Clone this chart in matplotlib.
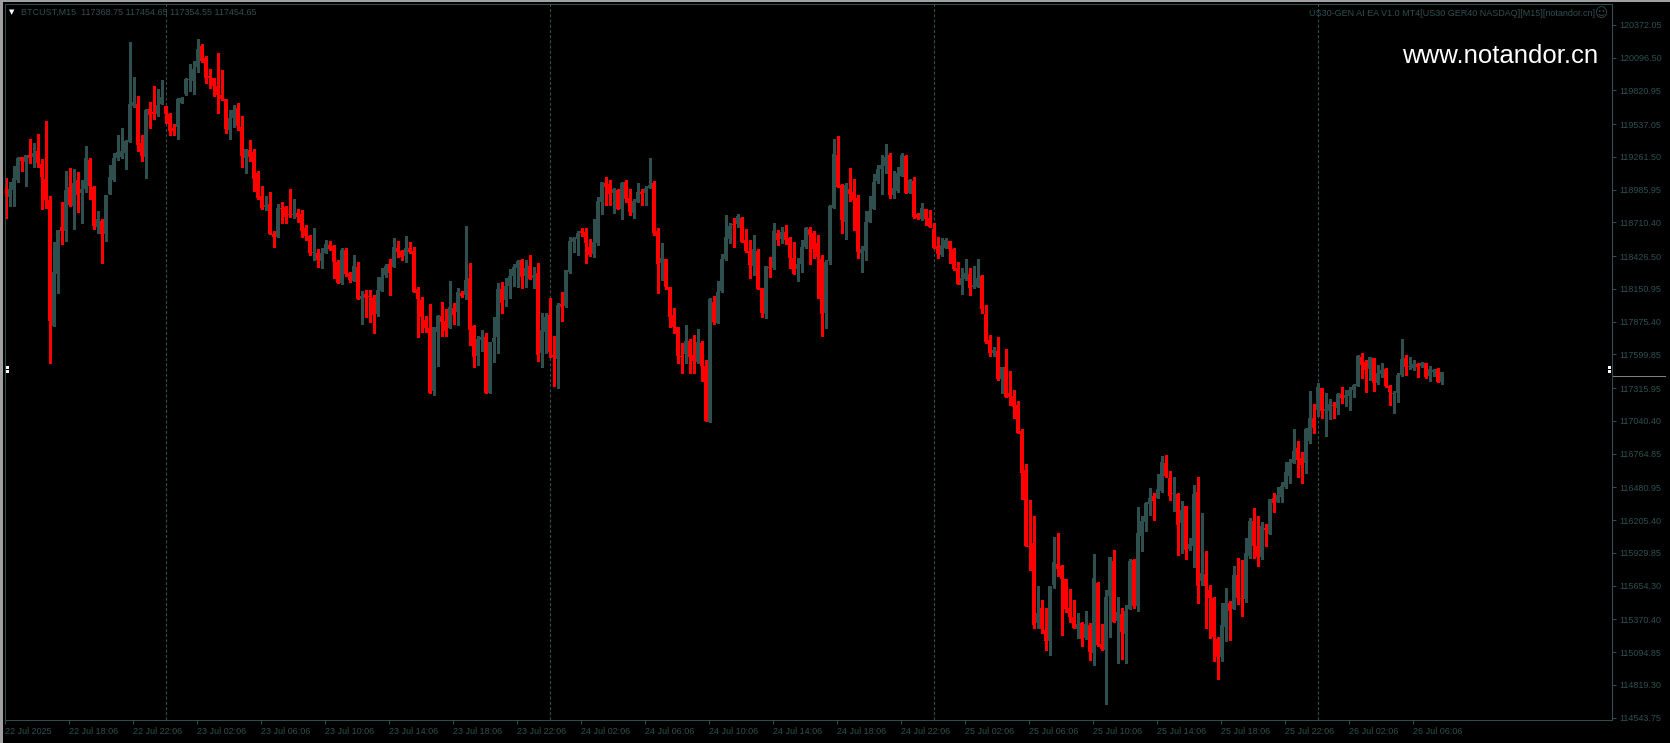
import matplotlib
matplotlib.use("Agg")
import matplotlib.pyplot as plt
from matplotlib.patches import Rectangle
from matplotlib.transforms import blended_transform_factory

plt.rcParams['font.family'] = ['Liberation Sans', 'DejaVu Sans']

# M15 candles (oldest first)
opens = [
    118998, 118928, 118984, 119068, 119261, 119222, 119275, 119261, 119312, 119203,
    119076, 118900, 117842, 118280, 118670, 118642, 119009, 118852, 119068, 118956,
    118989, 119236, 119012, 118675, 118723, 118614, 118953, 119068, 119253, 119264,
    119298, 119390, 119691, 119707, 119379, 119264, 119662, 119643, 119620, 119707,
    119691, 119623, 119508, 119517, 119713, 119789, 119909, 119904, 120016, 120195,
    120094, 119943, 119926, 119859, 119780, 119749, 119491, 119592, 119674, 119511,
    119256, 119320, 119304, 119124, 118933, 118844, 118866, 118614, 118591, 118827,
    118841, 118782, 118773, 118790, 118785, 118667, 118597, 118451, 118456, 118386,
    118456, 118521, 118513, 118381, 118198, 118479, 118285, 118221, 118336, 118069,
    118109, 118092, 118078, 117940, 118137, 118266, 118358, 118339, 118496, 118473,
    118428, 118496, 118471, 118148, 118058, 117890, 117825, 117295, 117792, 117924,
    117882, 117820, 117988, 117960, 118117, 118100, 118241, 117839, 117590, 117722,
    117744, 117279, 117702, 117744, 118151, 118056, 118176, 118260, 118325, 118395,
    118260, 118345, 118246, 118283, 117615, 117792, 117930, 117596, 117565, 118025,
    118011, 118297, 118549, 118569, 118639, 118628, 118507, 118448, 118541, 118886,
    119046, 119034, 118962, 118984, 118827, 119048, 118920, 118793, 118886, 118970,
    118956, 118998, 119040, 118639, 118367, 118403, 118171, 117930, 117834, 117590,
    117604, 117714, 117596, 117537, 117699, 117506, 117035, 118044, 117868, 118137,
    118401, 118572, 118695, 118695, 118751, 118563, 118471, 118347, 118474, 118157,
    117941, 118331, 118331, 118625, 118572, 118633, 118577, 118415, 118319, 118361,
    118507, 118659, 118619, 118541, 118406, 117946, 118387, 118835, 119278, 119026,
    118718, 118990, 118970, 118920, 118457, 118474, 118718, 118824, 119060, 119158,
    119186, 119278, 118942, 118978, 119102, 119273, 118956, 119060, 118779, 118740,
    118821, 118746, 118656, 118516, 118437, 118499, 118555, 118488, 118331, 118185,
    118232, 118277, 118171, 118171, 118263, 117941, 117722, 117615, 117629, 117394,
    117495, 117276, 117251, 117175, 116959, 116628, 115989, 116017, 115338, 115470,
    115282, 115192, 115660, 115834, 115823, 115711, 115464, 115388, 115290, 115338,
    115212, 115324, 115091, 115675, 115164, 115114, 115571, 115862, 115358, 115416,
    115245, 115456, 115871, 115487, 116076, 116188, 116345, 116412, 116395, 116454,
    116690, 116564, 116423, 116426, 116185, 116325, 115963, 115991, 116443, 115697,
    115753, 115618, 115554, 115206, 115057, 115310, 115512, 115459, 115745, 115554,
    115540, 115907, 116199, 115991, 115893, 116143, 116090, 116390, 116362, 116398,
    116488, 116580, 116690, 116816, 116732, 116690, 116875, 117066, 117133, 117315,
    117127, 117124, 117175, 117152, 117265, 117237, 117251, 117301, 117338, 117576,
    117540, 117475, 117568, 117357, 117436, 117478, 117335, 117267, 117279, 117427,
    117568, 117492, 117483, 117520, 117503, 117526, 117422, 117455, 117478, 117368.75,
]
highs = [
    119082, 119054, 119186, 119264, 119264, 119275, 119413, 119376, 119455, 119242,
    119564, 118933, 118549, 118647, 118883, 119144, 119169, 119160, 119132, 119068,
    119354, 119253, 119020, 118807, 118740, 118942, 119194, 119292, 119447, 119505,
    119404, 120226, 119935, 119777, 119447, 119668, 119727, 119859, 119834, 119909,
    119691, 119634, 119539, 119755, 119769, 119929, 120044, 120072, 120254, 120209,
    120114, 120005, 119926, 120139, 119993, 119749, 119657, 119699, 119716, 119609,
    119329, 119404, 119332, 119146, 119017, 118936, 118967, 118639, 118866, 118880,
    118849, 118992, 118908, 118824, 118815, 118687, 118605, 118667, 118487, 118493,
    118563, 118552, 118518, 118395, 118493, 118493, 118297, 118434, 118375, 118134,
    118145, 118145, 118100, 118255, 118325, 118358, 118400, 118577, 118557, 118479,
    118600, 118543, 118504, 118165, 118081, 117924, 118025, 117834, 117932, 118039,
    117980, 118218, 118030, 118156, 118137, 118681, 118367, 117848, 117755, 117806,
    117778, 117702, 117912, 118198, 118207, 118241, 118316, 118361, 118395, 118401,
    118395, 118437, 118339, 118367, 117952, 117952, 118073, 117756, 118036, 118129,
    118311, 118586, 118591, 118639, 118667, 118661, 118572, 118740, 118928, 119051,
    119091, 119068, 118998, 118992, 119051, 119068, 118990, 118905, 119040, 118990,
    119018, 119253, 119063, 118667, 118541, 118403, 118171, 117994, 117834, 117694,
    117845, 117728, 117764, 117812, 117716, 117554, 118078, 118092, 118218, 118443,
    118774, 118704, 118746, 118782, 118760, 118656, 118563, 118605, 118488, 118157,
    118345, 118423, 118704, 118647, 118670, 118690, 118586, 118549, 118409, 118563,
    118676, 118670, 118642, 118605, 118437, 118395, 118858, 119413, 119438, 119032,
    119040, 119166, 119074, 118942, 118513, 118810, 118934, 119119, 119194, 119278,
    119371, 119298, 119144, 119180, 119298, 119278, 119074, 119091, 118788, 118872,
    118827, 118816, 118709, 118586, 118583, 118577, 118558, 118493, 118381, 118325,
    118401, 118325, 118347, 118401, 118269, 118016, 117764, 117666, 117750, 117495,
    117646, 117461, 117301, 117209, 116970, 116679, 116376, 116241, 115652, 115534,
    115470, 115652, 116062, 116095, 115829, 115711, 115624, 115534, 115422, 115352,
    115442, 115344, 115921, 115683, 115332, 115618, 115893, 115955, 115562, 115470,
    115492, 115879, 115876, 116320, 116241, 116362, 116474, 116432, 116594, 116746,
    116754, 116622, 116566, 116432, 116370, 116325, 116053, 116502, 116566, 116269,
    115946, 115660, 115562, 115226, 115512, 115632, 115526, 115820, 115890, 115871,
    116053, 116227, 116305, 116241, 116193, 116174, 116384, 116432, 116488, 116530,
    116693, 116718, 116973, 116872, 116782, 116984, 117293, 117183, 117363, 117321,
    117279, 117223, 117203, 117273, 117324, 117301, 117329, 117349, 117596, 117610,
    117554, 117582, 117573, 117511, 117526, 117483, 117343, 117293, 117441, 117730,
    117596, 117582, 117554, 117526, 117540, 117531, 117506, 117475, 117489, 117454.65,
]
lows = [
    118745, 118849, 118849, 119054, 119144, 119020, 119214, 119180, 119180, 118824,
    118830, 117525, 117842, 118117, 118527, 118557, 118852, 118656, 118801, 118709,
    118970, 118905, 118653, 118619, 118367, 118557, 118953, 119059, 119236, 119256,
    119158, 119390, 119685, 119312, 119231, 119088, 119508, 119581, 119609, 119707,
    119550, 119449, 119449, 119410, 119713, 119783, 119820, 119789, 119974, 120058,
    119881, 119839, 119777, 119629, 119741, 119461, 119416, 119517, 119489, 119180,
    119130, 119231, 118978, 118908, 118821, 118815, 118611, 118504, 118586, 118709,
    118703, 118759, 118745, 118712, 118591, 118563, 118437, 118395, 118339, 118330,
    118451, 118479, 118241, 118198, 118193, 118260, 118212, 118221, 118064, 117859,
    117918, 117876, 117778, 117924, 118137, 118255, 118100, 118333, 118423, 118395,
    118381, 118451, 118123, 117744, 117786, 117792, 117273, 117259, 117506, 117758,
    117755, 117820, 117856, 117848, 118086, 118064, 117680, 117497, 117509, 117629,
    117273, 117273, 117539, 117609, 117946, 118011, 118073, 118179, 118171, 118162,
    118171, 118232, 118157, 117548, 117498, 117610, 117576, 117338, 117315, 117885,
    118002, 118283, 118465, 118440, 118600, 118367, 118429, 118423, 118518, 118782,
    118858, 118858, 118793, 118821, 118740, 118886, 118774, 118751, 118886, 118858,
    118858, 118998, 118605, 118120, 118227, 118148, 117829, 117784, 117526, 117447,
    117526, 117447, 117441, 117526, 117380, 117040, 117035, 117854, 117868, 118129,
    118395, 118541, 118507, 118676, 118544, 118465, 118244, 118269, 118151, 117918,
    117910, 118255, 118316, 118521, 118535, 118530, 118331, 118274, 118218, 118297,
    118493, 118361, 118409, 118078, 117758, 117826, 118361, 118835, 119007, 118625,
    118569, 118891, 118647, 118415, 118297, 118395, 118718, 118821, 119040, 118950,
    119124, 118914, 118914, 118970, 119102, 118962, 118956, 118751, 118740, 118732,
    118690, 118670, 118493, 118415, 118429, 118493, 118367, 118311, 118190, 118109,
    118227, 118101, 118162, 118165, 117952, 117699, 117590, 117590, 117385, 117273,
    117245, 117175, 117068, 116937, 116381, 115991, 115787, 115302, 115296, 115259,
    115114, 115072, 115632, 115736, 115240, 115436, 115352, 115302, 115212, 115147,
    115203, 115029, 114987, 115147, 115114, 114659, 115226, 115352, 115007, 115038,
    115001, 115456, 115464, 115445, 115949, 116115, 116249, 116207, 116390, 116446,
    116572, 116376, 116283, 115913, 115927, 115879, 115955, 115815, 115512, 115660,
    115302, 115212, 115024, 114867, 115024, 115192, 115198, 115459, 115498, 115402,
    115515, 115885, 115890, 115823, 115879, 115991, 116090, 116277, 116356, 116356,
    116479, 116521, 116690, 116572, 116521, 116606, 116852, 116942, 117082, 117068,
    116917, 117057, 117063, 117096, 117189, 117167, 117133, 117245, 117338, 117405,
    117287, 117385, 117296, 117352, 117413, 117329, 117175, 117105, 117203, 117422,
    117427, 117475, 117469, 117413, 117492, 117405, 117380, 117419, 117366, 117354.55,
]
closes = [
    118942, 118989, 119082, 119250, 119228, 119275, 119256, 119295, 119214, 119096,
    118900, 117882, 118291, 118647, 118639, 118984, 118858, 119040, 118942, 118989,
    119253, 119020, 118684, 118740, 118616, 118942, 119093, 119253, 119304, 119312,
    119399, 119707, 119724, 119362, 119270, 119657, 119615, 119626, 119699, 119766,
    119623, 119483, 119480, 119749, 119758, 119920, 119918, 120002, 120170, 120072,
    119929, 119926, 119862, 119783, 119747, 119494, 119587, 119657, 119525, 119273,
    119329, 119264, 119079, 118919, 118835, 118858, 118616, 118591, 118830, 118821,
    118759, 118773, 118785, 118759, 118642, 118600, 118451, 118456, 118395, 118456,
    118529, 118487, 118381, 118198, 118479, 118274, 118226, 118344, 118069, 118092,
    118078, 118086, 117932, 118142, 118255, 118347, 118288, 118504, 118465, 118423,
    118499, 118465, 118128, 118064, 117918, 117820, 117279, 117834, 117926, 117876,
    117797, 118002, 117932, 118128, 118095, 118226, 117806, 117581, 117727, 117744,
    117279, 117702, 117736, 118148, 118036, 118176, 118260, 118339, 118389, 118255,
    118325, 118238, 118269, 117596, 117806, 117913, 117624, 117582, 118016, 118002,
    118311, 118555, 118580, 118625, 118619, 118541, 118437, 118549, 118891, 119051,
    119012, 118953, 118992, 118827, 119043, 118908, 118799, 118891, 118970, 118953,
    119004, 119026, 118619, 118361, 118415, 118165, 117918, 117834, 117587, 117576,
    117716, 117582, 117548, 117705, 117506, 117040, 118064, 117873, 118129, 118401,
    118591, 118684, 118690, 118768, 118549, 118471, 118353, 118490, 118151, 117946,
    118345, 118325, 118639, 118563, 118633, 118563, 118415, 118274, 118359, 118507,
    118667, 118605, 118488, 118423, 117941, 118378, 118849, 119287, 119012, 118732,
    119026, 118950, 118900, 118465, 118488, 118718, 118810, 119054, 119158, 119194,
    119264, 118942, 118998, 119130, 119278, 118962, 119068, 118760, 118746, 118830,
    118737, 118670, 118499, 118446, 118521, 118563, 118488, 118319, 118193, 118241,
    118283, 118162, 118185, 118241, 117983, 117708, 117610, 117638, 117394, 117495,
    117245, 117245, 117161, 116937, 116606, 115991, 115977, 115324, 115422, 115287,
    115192, 115652, 115851, 115795, 115708, 115459, 115388, 115302, 115332, 115206,
    115332, 115100, 115717, 115156, 115122, 115557, 115893, 115352, 115430, 115268,
    115442, 115862, 115487, 116101, 116199, 116348, 116395, 116370, 116468, 116693,
    116580, 116412, 116437, 116165, 116291, 115955, 116005, 116426, 115655, 115759,
    115655, 115554, 115226, 115057, 115324, 115506, 115445, 115745, 115554, 115540,
    115932, 116202, 115991, 115899, 116157, 116123, 116384, 116353, 116418, 116493,
    116608, 116693, 116788, 116712, 116670, 116973, 117063, 116984, 117324, 117124,
    117141, 117183, 117169, 117267, 117231, 117259, 117301, 117343, 117587, 117511,
    117469, 117576, 117357, 117441, 117469, 117338, 117287, 117279, 117427, 117562,
    117492, 117503, 117520, 117492, 117531, 117413, 117475, 117469, 117371, 117454.65,
]

# bar index of each day start (period separators)
day_starts = [40, 136, 232, 328]

time_labels = [
    "22 Jul 2025", "22 Jul 18:06", "22 Jul 22:06", "23 Jul 02:06", "23 Jul 06:06",
    "23 Jul 10:06", "23 Jul 14:06", "23 Jul 18:06", "23 Jul 22:06", "24 Jul 02:06",
    "24 Jul 06:06", "24 Jul 10:06", "24 Jul 14:06", "24 Jul 18:06", "24 Jul 22:06",
    "25 Jul 02:06", "25 Jul 06:06", "25 Jul 10:06", "25 Jul 14:06", "25 Jul 18:06",
    "25 Jul 22:06", "26 Jul 02:06", "26 Jul 06:06",
]
price_labels = [
    "120372.05", "120096.50", "119820.95", "119537.05", "119261.50", "118985.95",
    "118710.40", "118426.50", "118150.95", "117875.40", "117599.85", "117315.95",
    "117040.40", "116764.85", "116480.95", "116205.40", "115929.85", "115654.30",
    "115370.40", "115094.85", "114819.30", "114543.75",
]

symbol = "BTCUST,M15"
ea_text = "US30-GEN AI EA V1.0 MT4[US30 GER40 NASDAQ][M15][notandor.cn]"
site = "www.notandor.cn"

# MT4 style colours
bg = "black"
fg = "#2F4F4F"
bull = "#2F4F4F"
bear = "#FF0000"

W, H = 1670, 743
fig = plt.figure(figsize=(W / 100, H / 100), dpi=100, facecolor=bg)
ax = fig.add_axes([4.7 / W, (H - 720) / H, (1612 - 4.7) / W, (720 - 4) / H])
ax.set_facecolor(bg)

# candles
n = len(closes)
up = [i for i in range(n) if closes[i] >= opens[i]]
dn = [i for i in range(n) if closes[i] < opens[i]]
for group, col in ((up, bull), (dn, bear)):
    ax.vlines(group, [lows[i] for i in group], [highs[i] for i in group],
              color=col, lw=0.75, antialiased=False, zorder=2)
    bottoms = [min(opens[i], closes[i]) for i in group]
    heights = [max(abs(closes[i] - opens[i]), 8.4) for i in group]
    ax.bar(group, heights, bottom=bottoms, width=0.75, color=col,
           linewidth=0, antialiased=False, zorder=3)

# day separators
for d in day_starts:
    ax.axvline(d, color=fg, lw=0.75, ls=(0, (3, 2)), zorder=1)

ax.set_xlim(-0.2, 401.6)
ax.set_ylim(114524.5, 120548.7)

ax.set_xticks([16 * k - 0.25 for k in range(len(time_labels))])
ax.set_xticklabels(time_labels, ha="left")
ax.yaxis.tick_right()
ax.set_yticks([float(s) for s in price_labels])
ax.set_yticklabels(price_labels)
ax.tick_params(axis="both", colors=fg, labelcolor=fg, direction="out",
               length=3, width=0.75, labelsize=6.5, pad=2)
for sp in ax.spines.values():
    sp.set_color(fg)
    sp.set_linewidth(0.75)

# last price marker in the price scale and the two chart-shift anchors
last = closes[-1]
tr = blended_transform_factory(ax.transAxes, ax.transData)
ax.plot([1.0005, 1.033], [last - 35, last - 35], transform=tr, color="#808080",
        lw=0.75, clip_on=False)
for xa in (0.0008, 0.9975):
    ax.add_patch(Rectangle((xa, last + 26), 0.0019, 25, transform=tr,
                           color="white", lw=0, clip_on=False, zorder=5))
    ax.add_patch(Rectangle((xa, last - 10), 0.0019, 25, transform=tr,
                           color="white", lw=0, clip_on=False, zorder=5))

# header texts
fig.text(11.5 / W, 1 - 12.5 / H, "▼", color="white", fontsize=5,
         ha="center", va="center", family=["DejaVu Sans"])
fig.text(20.7 / W, 1 - 12.5 / H,
         f"{symbol}  {opens[-1]:.2f} {highs[-1]:.2f} {lows[-1]:.2f} {closes[-1]:.2f}",
         color=fg, fontsize=6.5, va="center")
fig.text(1595 / W, 1 - 14 / H, ea_text, color=fg, fontsize=6.5,
         ha="right", va="center")
fig.text(1601.5 / W, 1 - 14 / H, "☺", color=fg, fontsize=9,
         ha="center", va="center", family=["DejaVu Sans"])
fig.text(1598 / W, 1 - 56 / H, site, color="white", fontsize=18.5,
         ha="right", va="center")

# window border
fig.add_artist(Rectangle((0, 0), 3 / W, 1, transform=fig.transFigure,
                         color="#a0a0a0", lw=0))
fig.add_artist(Rectangle((0, 1 - 2 / H), 1, 2 / H, transform=fig.transFigure,
                         color="#a0a0a0", lw=0))

fig.savefig("out.png", dpi=100, facecolor=bg)
